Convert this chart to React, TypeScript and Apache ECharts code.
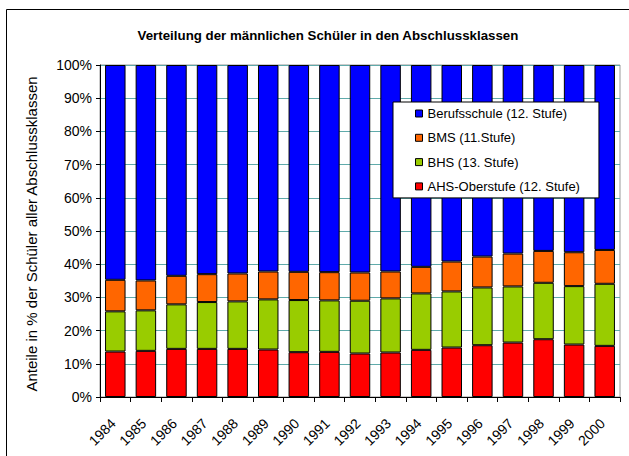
import React, { useEffect, useRef } from "react";
import * as echarts from "echarts";

const years = ["1984", "1985", "1986", "1987", "1988", "1989", "1990", "1991", "1992", "1993", "1994", "1995", "1996", "1997", "1998", "1999", "2000"];
const ahs = [13.7, 13.9, 14.5, 14.5, 14.5, 14.3, 13.5, 13.6, 13.1, 13.4, 14.2, 14.9, 15.6, 16.4, 17.4, 15.8, 15.4];
const bhs = [12.1, 12.2, 13.4, 14.1, 14.3, 15.1, 15.7, 15.5, 15.9, 16.3, 17.0, 16.9, 17.4, 16.9, 17.0, 17.6, 18.7];
const bms = [9.5, 9.0, 8.6, 8.4, 8.4, 8.4, 8.5, 8.5, 8.5, 8.1, 8.0, 9.0, 9.3, 9.9, 9.6, 10.2, 10.2];
const beruf = [64.7, 64.9, 63.5, 63.0, 62.8, 62.2, 62.3, 62.4, 62.5, 62.2, 60.8, 59.2, 57.7, 56.8, 56.0, 56.4, 55.7];

const seriesNames = ["AHS-Oberstufe (12. Stufe)", "BHS (13. Stufe)", "BMS (11.Stufe)", "Berufsschule (12. Stufe)"];
const seriesColors = ["#FF0000", "#99CC00", "#FF6600", "#0000FF"];
const seriesData = [ahs, bhs, bms, beruf];

const titleText = "Verteilung der männlichen Schüler in den Abschlussklassen";
const yName = "Anteile in % der Schüler aller Abschlussklassen";

const FONT = 'Arial, "Liberation Sans", sans-serif';

export default function App() {
  const ref = useRef<HTMLDivElement>(null);
  useEffect(() => {
    document.body.style.margin = "0";
    if (!ref.current) return;
    const chart = echarts.init(ref.current, undefined, { renderer: "svg" });
    chart.setOption({
      animation: false,
      backgroundColor: "#fff",
      title: {
        text: titleText,
        left: 323,
        top: 24,
        textAlign: "center",
        textStyle: { fontFamily: FONT, fontSize: 13.3, fontWeight: "bold", color: "#000" },
      },
      graphic: [
        {
          type: "rect",
          shape: { x: 6.5, y: 9.5, width: 700, height: 600 },
          style: { fill: "none", stroke: "#000", lineWidth: 1 },
          silent: true,
        },
        {
          type: "text",
          x: 31,
          y: 234,
          rotation: Math.PI / 2,
          style: {
            text: yName,
            fontSize: 15,
            fontFamily: FONT,
            fill: "#000",
            textAlign: "center",
            textVerticalAlign: "middle",
          },
        },
      ],
      legend: {
        data: [seriesNames[3], seriesNames[2], seriesNames[1], seriesNames[0]],
        orient: "vertical",
        left: 393,
        top: 102,
        padding: [4, 19, 4, 22],
        itemGap: 9.3,
        itemWidth: 7,
        itemHeight: 7,
        icon: "rect",
        backgroundColor: "#fff",
        borderColor: "#000",
        borderWidth: 1,
        itemStyle: { borderColor: "#000", borderWidth: 1 },
        textStyle: { fontFamily: FONT, fontSize: 13, color: "#000", lineHeight: 15 },
      },
      grid: {
        left: 100,
        right: 9,
        top: 65,
        bottom: 59,
        show: true,
        borderColor: "#999",
        borderWidth: 1,
        backgroundColor: "transparent",
      },
      xAxis: {
        type: "category",
        data: years,
        boundaryGap: true,
        axisLine: { lineStyle: { color: "#000", width: 1 } },
        axisTick: { show: true, length: 5, lineStyle: { color: "#000" } },
        axisLabel: {
          rotate: 45,
          interval: 0,
          margin: 12,
          align: "right",
          verticalAlign: "top",
          padding: [0, 10, 0, 0],
          fontFamily: FONT,
          fontSize: 14,
          color: "#000",
        },
      },
      yAxis: {
        type: "value",
        min: 0,
        max: 100,
        interval: 10,
        axisLine: { show: true, lineStyle: { color: "#000", width: 1 } },
        axisTick: { show: true, length: 4, lineStyle: { color: "#000" } },
        axisLabel: {
          formatter: "{value}%",
          margin: 8,
          fontFamily: FONT,
          fontSize: 14,
          color: "#000",
        },
        splitLine: { show: true, lineStyle: { color: "#5FAAAA", width: 1 } },
      },
      series: seriesNames.map((name, i) => ({
        name,
        type: "bar",
        stack: "total",
        data: seriesData[i],
        barCategoryGap: "33%",
        itemStyle: { color: seriesColors[i], borderColor: "#000", borderWidth: 1 },
      })),
    });
    return () => chart.dispose();
  }, []);
  return <div ref={ref} style={{ width: 629, height: 456 }} />;
}
